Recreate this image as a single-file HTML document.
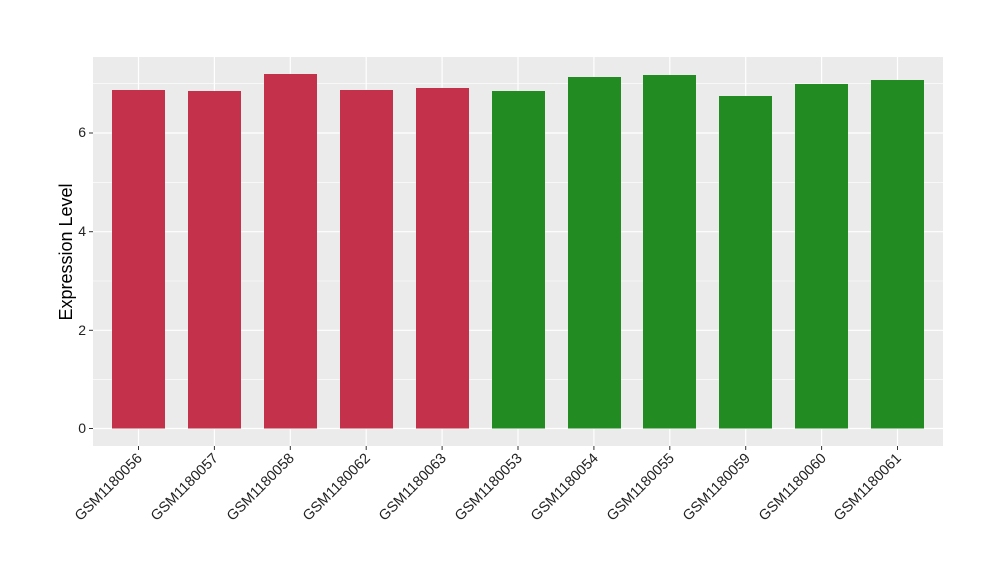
<!DOCTYPE html>
<html><head><style>body{margin:0;background:#fff}svg{display:block}text{font-family:"Liberation Sans",Arial,sans-serif}</style></head><body>
<svg width="1000" height="580" xmlns="http://www.w3.org/2000/svg">
<rect x="93" y="57" width="850" height="389" fill="#ebebeb"/>
<g stroke="#fff" stroke-width="0.6">
<line x1="93" x2="943" y1="379.7" y2="379.7"/><line x1="93" x2="943" y1="281" y2="281"/><line x1="93" x2="943" y1="182.3" y2="182.3"/><line x1="93" x2="943" y1="83.7" y2="83.7"/>
</g>
<g stroke="#fff" stroke-width="1.2">
<line x1="93" x2="943" y1="428.5" y2="428.5"/><line x1="93" x2="943" y1="330.3" y2="330.3"/><line x1="93" x2="943" y1="231.7" y2="231.7"/><line x1="93" x2="943" y1="133" y2="133"/>
<line y1="57" y2="446" x1="138.5" x2="138.5"/><line y1="57" y2="446" x1="214.4" x2="214.4"/><line y1="57" y2="446" x1="290.3" x2="290.3"/><line y1="57" y2="446" x1="366.2" x2="366.2"/><line y1="57" y2="446" x1="442.1" x2="442.1"/><line y1="57" y2="446" x1="518" x2="518"/><line y1="57" y2="446" x1="593.9" x2="593.9"/><line y1="57" y2="446" x1="669.8" x2="669.8"/><line y1="57" y2="446" x1="745.7" x2="745.7"/><line y1="57" y2="446" x1="821.6" x2="821.6"/><line y1="57" y2="446" x1="897.5" x2="897.5"/>
</g>
<g fill="#c3314a">
<rect x="112" y="90" width="53" height="338.5"/><rect x="188" y="91" width="53" height="337.5"/><rect x="264" y="74" width="53" height="354.5"/><rect x="340" y="90" width="53" height="338.5"/><rect x="416" y="88" width="53" height="340.5"/>
</g>
<g fill="#228b22">
<rect x="492" y="91" width="53" height="337.5"/><rect x="568" y="77" width="53" height="351.5"/><rect x="643" y="75" width="53" height="353.5"/><rect x="719" y="96" width="53" height="332.5"/><rect x="795" y="84" width="53" height="344.5"/><rect x="871" y="80" width="53" height="348.5"/>
</g>
<g stroke="#333" stroke-width="1">
<line x1="89" x2="93" y1="428.5" y2="428.5"/><line x1="89" x2="93" y1="330.3" y2="330.3"/><line x1="89" x2="93" y1="231.7" y2="231.7"/><line x1="89" x2="93" y1="133" y2="133"/>
</g>
<g stroke="#333"><line x1="138.5" x2="138.5" y1="446" y2="450"/><line x1="214.4" x2="214.4" y1="446" y2="450"/><line x1="290.3" x2="290.3" y1="446" y2="450"/><line x1="366.2" x2="366.2" y1="446" y2="450"/><line x1="442.1" x2="442.1" y1="446" y2="450"/><line x1="518" x2="518" y1="446" y2="450"/><line x1="593.9" x2="593.9" y1="446" y2="450"/><line x1="669.8" x2="669.8" y1="446" y2="450"/><line x1="745.7" x2="745.7" y1="446" y2="450"/><line x1="821.6" x2="821.6" y1="446" y2="450"/><line x1="897.5" x2="897.5" y1="446" y2="450"/></g>
<g font-size="14" fill="#222" text-anchor="end">
<text x="86" y="433">0</text><text x="86" y="335">2</text><text x="86" y="236">4</text><text x="86" y="137">6</text>
</g>
<g font-size="14.5" fill="#222" text-anchor="end">
<text transform="translate(143,459) rotate(-45)">GSM1180056</text>
<text transform="translate(219,459) rotate(-45)">GSM1180057</text>
<text transform="translate(295,459) rotate(-45)">GSM1180058</text>
<text transform="translate(371,459) rotate(-45)">GSM1180062</text>
<text transform="translate(447,459) rotate(-45)">GSM1180063</text>
<text transform="translate(523,459) rotate(-45)">GSM1180053</text>
<text transform="translate(599,459) rotate(-45)">GSM1180054</text>
<text transform="translate(675,459) rotate(-45)">GSM1180055</text>
<text transform="translate(751,459) rotate(-45)">GSM1180059</text>
<text transform="translate(827,459) rotate(-45)">GSM1180060</text>
<text transform="translate(902,459) rotate(-45)">GSM1180061</text>
</g>
<text transform="translate(72,252) rotate(-90)" font-size="18" fill="#000" text-anchor="middle">Expression Level</text>
</svg>
</body></html>
